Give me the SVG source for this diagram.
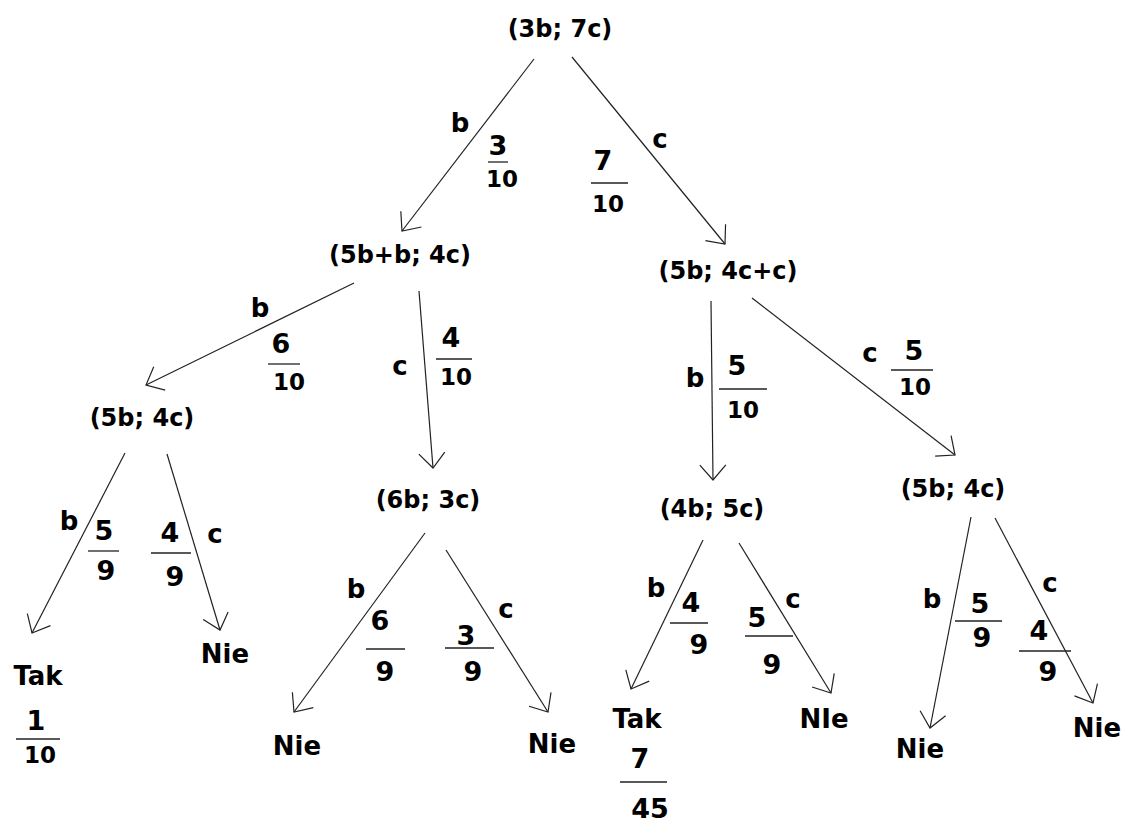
<svg xmlns="http://www.w3.org/2000/svg" width="1128" height="823" viewBox="0 0 1128 823">
<defs>
<style>
text{font-family:"DejaVu Sans",sans-serif;font-weight:bold;fill:#000;text-anchor:middle}
.n{font-size:24px}
.l{font-size:26px}
.e{font-size:26px}
.f{font-size:27px}
.d{font-size:23px}
.edge{stroke:#222;stroke-width:1.2;fill:none;marker-end:url(#arr)}
.bar{stroke:#222;stroke-width:1.3}
</style>
<marker id="arr" markerUnits="userSpaceOnUse" markerWidth="40" markerHeight="40" refX="0" refY="0" viewBox="-20 -20 40 40" orient="auto" overflow="visible">
<path d="M -15 -13 L 0 0 L -15 13" fill="none" stroke="#222" stroke-width="1.2"/>
</marker>
</defs>
<rect width="1128" height="823" fill="#fff"/>
<g id="connectors">
<line class="edge" x1="534" y1="59" x2="402" y2="231"/>
<line class="edge" x1="572" y1="57" x2="725" y2="244"/>
<line class="edge" x1="354" y1="283" x2="146" y2="385"/>
<line class="edge" x1="419" y1="291" x2="433" y2="468"/>
<line class="edge" x1="711" y1="301" x2="713" y2="480"/>
<line class="edge" x1="752" y1="298" x2="955" y2="455"/>
<line class="edge" x1="125" y1="453" x2="32" y2="633"/>
<line class="edge" x1="167" y1="454" x2="220" y2="630"/>
<line class="edge" x1="425" y1="533" x2="294" y2="712"/>
<line class="edge" x1="446" y1="550" x2="548" y2="712"/>
<line class="edge" x1="703" y1="540" x2="631" y2="689"/>
<line class="edge" x1="739" y1="543" x2="831" y2="693"/>
<line class="edge" x1="971" y1="517" x2="930" y2="728"/>
<line class="edge" x1="995" y1="518" x2="1093" y2="703"/>
</g>
<g id="edge-labels">
<text class="e" x="460" y="132">b</text>
<text class="e" x="660" y="148">c</text>
<text class="e" x="260" y="317">b</text>
<text class="e" x="400" y="375">c</text>
<text class="e" x="695" y="387">b</text>
<text class="e" x="870" y="362">c</text>
<text class="e" x="69" y="530">b</text>
<text class="e" x="215" y="543">c</text>
<text class="e" x="356" y="598">b</text>
<text class="e" x="506" y="618">c</text>
<text class="e" x="656" y="597">b</text>
<text class="e" x="793" y="608">c</text>
<text class="e" x="932" y="608">b</text>
<text class="e" x="1050" y="592">c</text>
</g>
<g id="fractions">
<text class="f" x="498" y="155">3</text><line class="bar" x1="488" y1="162" x2="508" y2="162"/><text class="d" x="502" y="187">10</text>
<text class="f" x="603" y="170">7</text><line class="bar" x1="591" y1="183" x2="628" y2="183"/><text class="d" x="608" y="212">10</text>
<text class="f" x="281" y="353">6</text><line class="bar" x1="268" y1="364" x2="300" y2="364"/><text class="d" x="289" y="390">10</text>
<text class="f" x="451" y="347">4</text><line class="bar" x1="436" y1="359" x2="472" y2="359"/><text class="d" x="456" y="385">10</text>
<text class="f" x="737" y="375">5</text><line class="bar" x1="719" y1="389" x2="767" y2="389"/><text class="d" x="743" y="418">10</text>
<text class="f" x="914" y="360">5</text><line class="bar" x1="891" y1="370" x2="933" y2="370"/><text class="d" x="915" y="395">10</text>
<text class="f" x="104" y="540">5</text><line class="bar" x1="88" y1="551" x2="119" y2="551"/><text class="f" x="106" y="580">9</text>
<text class="f" x="170" y="542">4</text><line class="bar" x1="151" y1="553" x2="191" y2="553"/><text class="f" x="175" y="586">9</text>
<text class="f" x="36" y="730">1</text><line class="bar" x1="16" y1="739" x2="60" y2="739"/><text class="d" x="40" y="763">10</text>
<text class="f" x="380" y="630">6</text><line class="bar" x1="366" y1="649" x2="405" y2="649"/><text class="f" x="385" y="681">9</text>
<text class="f" x="466" y="645">3</text><line class="bar" x1="445" y1="648" x2="494" y2="648"/><text class="f" x="473" y="681">9</text>
<text class="f" x="691" y="612">4</text><line class="bar" x1="670" y1="623" x2="708" y2="623"/><text class="f" x="699" y="654">9</text>
<text class="f" x="757" y="627">5</text><line class="bar" x1="745" y1="636" x2="793" y2="636"/><text class="f" x="772" y="674">9</text>
<text class="f" x="640" y="768">7</text><line class="bar" x1="620" y1="782" x2="667" y2="782"/><text class="f" x="650" y="818">45</text>
<text class="f" x="980" y="613">5</text><line class="bar" x1="955" y1="621" x2="1002" y2="621"/><text class="f" x="982" y="647">9</text>
<text class="f" x="1039" y="640">4</text><line class="bar" x1="1019" y1="651" x2="1071" y2="651"/><text class="f" x="1048" y="681">9</text>
</g>
<g id="node-root"><text class="n" x="560" y="37">(3b; 7c)</text></g>
<g id="node-L"><text class="n" x="400" y="263">(5b+b; 4c)</text></g>
<g id="node-R"><text class="n" x="728" y="279">(5b; 4c+c)</text></g>
<g id="node-LL"><text class="n" x="142" y="426">(5b; 4c)</text></g>
<g id="node-LR"><text class="n" x="428" y="508">(6b; 3c)</text></g>
<g id="node-RL"><text class="n" x="712" y="517">(4b; 5c)</text></g>
<g id="node-RR"><text class="n" x="953" y="497">(5b; 4c)</text></g>
<g id="leaf-1"><text class="l" x="38" y="685">Tak</text></g>
<g id="leaf-2"><text class="l" x="225" y="663">Nie</text></g>
<g id="leaf-3"><text class="l" x="297" y="755">Nie</text></g>
<g id="leaf-4"><text class="l" x="552" y="753">Nie</text></g>
<g id="leaf-5"><text class="l" x="637" y="728">Tak</text></g>
<g id="leaf-6"><text class="l" x="824" y="728">NIe</text></g>
<g id="leaf-7"><text class="l" x="920" y="758">Nie</text></g>
<g id="leaf-8"><text class="l" x="1097" y="737">Nie</text></g>
</svg>
